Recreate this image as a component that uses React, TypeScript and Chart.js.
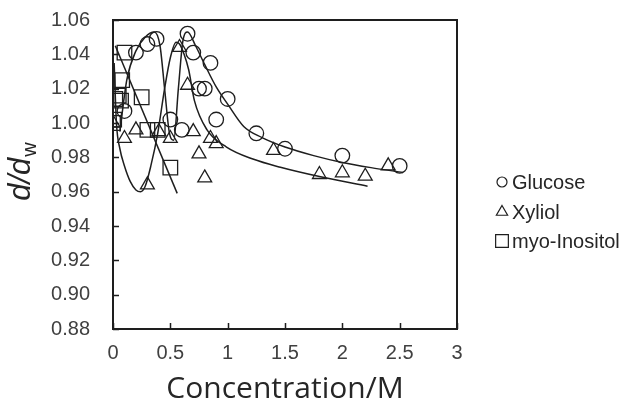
import React, { useEffect, useRef } from 'react';
import { Chart, registerables } from 'chart.js';
Chart.register(...registerables);

// Measured points
const glucoseX = [0.1, 0.2, 0.3, 0.38, 0.5, 0.6, 0.65, 0.7, 0.75, 0.8, 0.85, 0.9, 1.0, 1.25, 1.5, 2.0, 2.5];
const glucoseY = [1.007, 1.041, 1.046, 1.049, 1.002, 0.996, 1.052, 1.041, 1.02, 1.02, 1.035, 1.002, 1.014, 0.994, 0.985, 0.981, 0.975];

const xyliolX = [0, 0.1, 0.2, 0.3, 0.4, 0.5, 0.58, 0.65, 0.7, 0.75, 0.8, 0.85, 0.9, 1.4, 1.8, 2.0, 2.2, 2.4];
const xyliolY = [1.0, 0.991, 0.996, 0.964, 0.995, 0.991, 1.044, 1.022, 0.995, 0.982, 0.968, 0.991, 0.988, 0.984, 0.97, 0.971, 0.969, 0.975];

const myoX = [0, 0.01, 0.02, 0.05, 0.07, 0.08, 0.1, 0.25, 0.3, 0.39, 0.5];
const myoY = [1.0, 1.002, 1.014, 1.016, 1.013, 1.025, 1.041, 1.015, 0.996, 0.996, 0.974];

// Trend lines
const glucoseFitX = [0.06, 0.12, 0.2, 0.28, 0.36, 0.41, 0.45, 0.49, 0.53, 0.57, 0.61, 0.65, 0.72, 0.8, 0.9, 1.0, 1.14, 1.3, 1.5, 1.75, 2.0, 2.25, 2.53];
const glucoseFitY = [0.995, 1.025, 1.042, 1.05, 1.053, 1.045, 1.02, 0.995, 0.99, 1.02, 1.048, 1.053, 1.045, 1.034, 1.021, 1.011, 0.998, 0.9915, 0.986, 0.981, 0.977, 0.974, 0.9712];

const xyliolFitX = [0.01, 0.03, 0.06, 0.1, 0.15, 0.2, 0.24, 0.28, 0.33, 0.39, 0.45, 0.5, 0.55, 0.58, 0.62, 0.66, 0.71, 0.82, 0.99, 1.22, 1.46, 1.8, 2.22];
const xyliolFitY = [1.035, 1.0, 0.985, 0.975, 0.966, 0.961, 0.96, 0.963, 0.975, 0.994, 1.02, 1.038, 1.047, 1.046, 1.04, 1.031, 1.013, 0.996, 0.986, 0.979, 0.9742, 0.9688, 0.9632];

const myoFitX = [0.02, 0.56];
const myoFitY = [1.045, 0.959];

const yTicks = [0.88, 0.9, 0.92, 0.94, 0.96, 0.98, 1.0, 1.02, 1.04, 1.06];
const xTicks = [0, 0.5, 1, 1.5, 2, 2.5, 3];
const seriesNames = ['Glucose', 'Xyliol', 'myo-Inositol'];

const INK = '#1e1e1e';
const TEXT = '#404040';

const pts = (xs: number[], ys: number[]) => xs.map((x, i) => ({ x, y: ys[i] }));

function drawMarker(ctx: CanvasRenderingContext2D, style: string, r: number, x: number, y: number) {
  ctx.beginPath();
  if (style === 'circle') {
    ctx.arc(x, y, r, 0, Math.PI * 2);
  } else if (style === 'triangle') {
    ctx.moveTo(x, y - r);
    ctx.lineTo(x + r * Math.sin((2 * Math.PI) / 3), y + r * 0.5);
    ctx.lineTo(x - r * Math.sin((2 * Math.PI) / 3), y + r * 0.5);
    ctx.closePath();
  } else {
    const s = r * Math.SQRT1_2;
    ctx.rect(x - s, y - s, 2 * s, 2 * s);
  }
  ctx.stroke();
}

const framePlugin = {
  id: 'frame',
  afterDraw(chart: any) {
    const { ctx, chartArea: a, scales } = chart;
    ctx.save();
    ctx.strokeStyle = INK;
    ctx.lineWidth = 1.5;
    ctx.beginPath();
    yTicks.forEach((v) => {
      const y = Math.round(scales.y.getPixelForValue(v)) + 0.5;
      ctx.moveTo(a.left, y);
      ctx.lineTo(a.left + 6, y);
    });
    xTicks.forEach((v) => {
      const x = Math.round(scales.x.getPixelForValue(v)) + 0.5;
      ctx.moveTo(x, a.bottom);
      ctx.lineTo(x, a.bottom - 6);
    });
    ctx.stroke();
    ctx.lineWidth = 2;
    ctx.strokeRect(a.left, a.top, a.right - a.left, a.bottom - a.top);

    // y-axis title d/d_w
    ctx.fillStyle = '#262626';
    ctx.textBaseline = 'alphabetic';
    ctx.textAlign = 'left';
    const mainFont = 'italic 31px "Liberation Sans", Arial, sans-serif';
    const subFont = '20px "Liberation Sans", Arial, sans-serif';
    ctx.font = mainFont;
    const w1 = ctx.measureText('d/d').width;
    ctx.font = subFont;
    const w2 = ctx.measureText('w').width;
    const total = w1 + w2;
    ctx.translate(30, 172);
    ctx.rotate(-Math.PI / 2);
    ctx.font = mainFont;
    ctx.fillText('d/d', -total / 2, 0);
    ctx.font = subFont;
    ctx.fillText('w', -total / 2 + w1 + 1, 6);
    ctx.restore();

    // legend
    ctx.save();
    const styles = ['circle', 'triangle', 'rect'];
    const radii = [5, 6.5, 9];
    const ys = [182, 212, 241];
    ctx.font = '20px "Liberation Sans", Arial, sans-serif';
    ctx.textBaseline = 'middle';
    ctx.textAlign = 'left';
    styles.forEach((s, i) => {
      ctx.strokeStyle = INK;
      ctx.lineWidth = 1.2;
      drawMarker(ctx, s, radii[i], 502, ys[i]);
      ctx.fillStyle = '#262626';
      ctx.fillText(seriesNames[i], 512, ys[i] + 1);
    });
    ctx.restore();
  },
};

export default function App() {
  const ref = useRef<HTMLCanvasElement>(null);
  useEffect(() => {
    const markerCommon = {
      borderColor: INK,
      backgroundColor: 'rgba(0,0,0,0)',
      borderWidth: 1.3,
      showLine: false,
    };
    const lineCommon = {
      borderColor: INK,
      backgroundColor: 'rgba(0,0,0,0)',
      borderWidth: 1.5,
      showLine: true,
      pointRadius: 0,
      cubicInterpolationMode: 'monotone' as const,
    };
    const chart = new Chart(ref.current!, {
      type: 'scatter',
      data: {
        datasets: [
          { label: 'glucoseFit', data: pts(glucoseFitX, glucoseFitY), ...lineCommon },
          { label: 'xyliolFit', data: pts(xyliolFitX, xyliolFitY), ...lineCommon },
          { label: 'myoFit', data: pts(myoFitX, myoFitY), ...lineCommon },
          { label: seriesNames[0], data: pts(glucoseX, glucoseY), ...markerCommon, pointStyle: 'circle', pointRadius: 7.3 },
          { label: seriesNames[1], data: pts(xyliolX, xyliolY), ...markerCommon, pointStyle: 'triangle', pointRadius: 8 },
          { label: seriesNames[2], data: pts(myoX, myoY), ...markerCommon, pointStyle: 'rect', pointRadius: 10.3 },
        ],
      },
      options: {
        animation: false,
        responsive: false,
        maintainAspectRatio: false,
        layout: { padding: { left: 0, right: 180, top: 20, bottom: 0 } },
        plugins: { legend: { display: false }, tooltip: { enabled: false } },
        scales: {
          x: {
            type: 'linear',
            min: 0,
            max: 3,
            afterBuildTicks: (s: any) => { s.ticks = xTicks.map((v) => ({ value: v })); },
            afterFit: (s: any) => { s.height = 72; s.paddingLeft = 0; s.paddingRight = 0; },
            grid: { display: false, drawTicks: false },
            border: { display: false },
            ticks: {
              padding: 12,
              color: TEXT,
              font: { family: '"Liberation Sans", Arial, sans-serif', size: 20 },
              callback: (v: any) => String(v),
              maxRotation: 0,
            },
            title: {
              display: true,
              text: 'Concentration/M',
              color: '#262626',
              font: { family: '"Open Sans", sans-serif', size: 30 },
              padding: { top: 0, bottom: -6 },
            },
          },
          y: {
            type: 'linear',
            min: 0.88,
            max: 1.06,
            afterBuildTicks: (s: any) => { s.ticks = yTicks.map((v) => ({ value: v })); },
            afterFit: (s: any) => { s.width = 113; s.paddingTop = 0; s.paddingBottom = 0; },
            grid: { display: false, drawTicks: false },
            border: { display: false },
            ticks: {
              padding: 23,
              color: TEXT,
              font: { family: '"Liberation Sans", Arial, sans-serif', size: 20 },
              callback: (v: any) => Number(v).toFixed(2),
            },
          },
        },
      },
      plugins: [framePlugin],
    });
    return () => chart.destroy();
  }, []);
  return (
    <div style={{ position: 'fixed', left: 0, top: 0, width: 637, height: 401, background: '#fff' }}>
      <canvas ref={ref} width={637} height={401} style={{ display: 'block', width: 637, height: 401 }} />
    </div>
  );
}
